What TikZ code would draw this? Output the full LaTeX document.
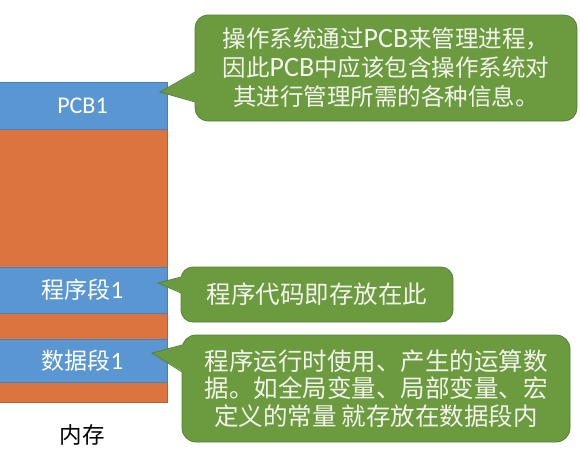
\documentclass[tikz,border=0pt]{standalone}
\usepackage{fontspec}
\setmainfont{Noto Sans CJK SC}
\newfontfamily\lat{Carlito}
\newcommand{\bublat}[1]{{\lat\fontsize{28}{29}\selectfont #1}}
\definecolor{memblue}{HTML}{5A96D2}
\definecolor{memblueline}{HTML}{4A7FB5}
\definecolor{memorange}{HTML}{DC7440}
\definecolor{memorangeline}{HTML}{B8602F}
\definecolor{bubgreen}{HTML}{6B9A3F}
\definecolor{bubline}{HTML}{55803A}
\definecolor{bubtext}{HTML}{F4F4EE}
\tikzset{
  blk/.style={rectangle, minimum width=169pt, inner sep=0pt, outer sep=0pt, text=white,
    font=\fontsize{23}{27}\selectfont},
  blueblk/.style={blk, fill=memblue, draw=memblueline, line width=0.8pt},
  orangeblk/.style={blk, fill=memorange, draw=memorangeline, line width=0.6pt},
  bubble/.style={rectangle, rounded corners=13pt, fill=bubgreen, draw=bubline, line width=0.8pt,
    inner sep=0pt, outer sep=0pt, text=bubtext, align=center},
  pointerfill/.style={fill=bubgreen},
  pointerline/.style={draw=bubline, line width=0.8pt, line join=miter},
}
\begin{document}
\begin{tikzpicture}[x=1pt,y=-1pt]
\fill[white] (0,0) rectangle (580,448);
\useasboundingbox (0,0) rectangle (580,448);
% memory column
\node[orangeblk, minimum height=138pt] (o1) at (82.5,198) {};
\node[orangeblk, minimum height=26pt] (o2) at (82.5,326) {};
\node[orangeblk, minimum height=20pt] (o3) at (82.5,392) {};
\node[blueblk, minimum height=47pt] (pcb) at (82.5,105.5) {\lat\fontsize{24}{27}\selectfont PCB1};
\node[blueblk, minimum height=46pt] (code) at (82.5,290) {程序段{\lat\fontsize{25}{27}\selectfont 1}};
\node[blueblk, minimum height=43pt] (data) at (82.5,360.5) {数据段{\lat\fontsize{25}{27}\selectfont 1}};
\node[font=\fontsize{22.5}{26}\selectfont, text=black] (mem) at (82,435) {内存};
% bubbles
\node[bubble, minimum width=382pt, minimum height=106pt, font=\fontsize{23.5}{29}\selectfont] (b1) at (386,68)
  {操作系统通过\bublat{PCB}来管理进程，\\因此\bublat{PCB}中应该包含操作系统对\\其进行管理所需的各种信息。};
\node[bubble, rounded corners=12pt, minimum width=272pt, minimum height=55pt, font=\fontsize{24.5}{28}\selectfont] (b2) at (317,294.5)
  {程序代码即存放在此};
\node[bubble, rounded corners=14pt, minimum width=388pt, minimum height=107pt, font=\fontsize{24.5}{27.5}\selectfont] (b3) at (376,388.5)
  {程序运行时使用、产生的运算数\\据。如全局变量、局部变量、宏\\定义的常量 就存放在数据段内};
% pointers
\coordinate (t1) at (160,92);
\coordinate (t2) at (158,283);
\coordinate (t3) at (152,353);
\fill[pointerfill] (t1) -- ([shift={(1.5,4)}]b1.west) -- ([shift={(1.5,34)}]b1.west) -- cycle;
\draw[pointerline] ([shift={(0,4)}]b1.west) -- (t1) -- ([shift={(0,34)}]b1.west);
\fill[pointerfill] (t2) -- ([shift={(1.5,-17.5)}]b2.west) -- ([shift={(1.5,-1.5)}]b2.west) -- cycle;
\draw[pointerline] ([shift={(0,-17.5)}]b2.west) -- (t2) -- ([shift={(0,-1.5)}]b2.west);
\fill[pointerfill] (t3) -- ([shift={(1.5,-43.5)}]b3.west) -- ([shift={(1.5,-16.5)}]b3.west) -- cycle;
\draw[pointerline] ([shift={(0,-43.5)}]b3.west) -- (t3) -- ([shift={(0,-16.5)}]b3.west);
\end{tikzpicture}
\end{document}
